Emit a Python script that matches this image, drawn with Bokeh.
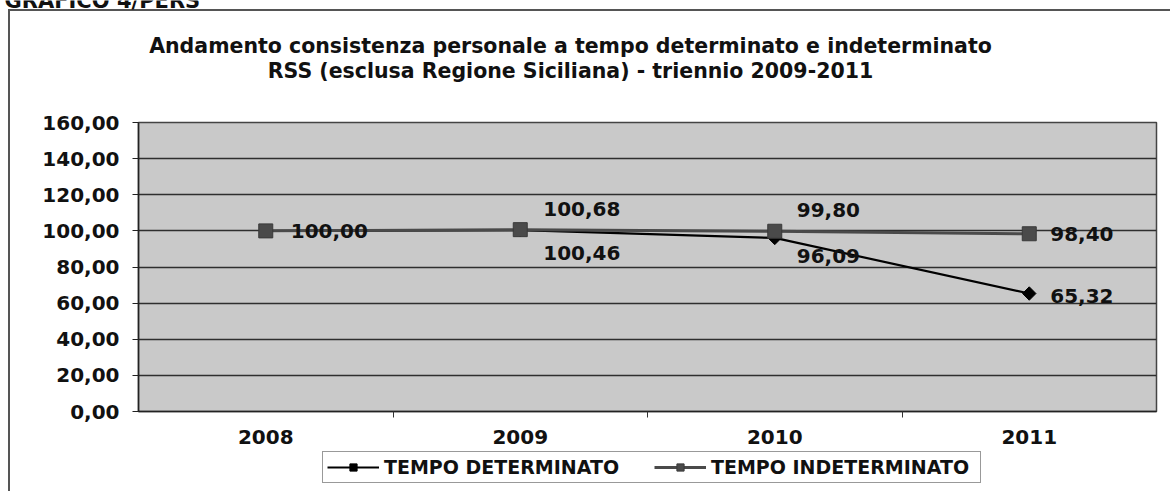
import math
from bokeh.plotting import figure
from bokeh.models import (ColumnDataSource, Range1d, FixedTicker, Legend, LegendItem)
from bokeh.core.properties import value
from bokeh.embed import file_html
from bokeh.resources import INLINE

# ---- data ----
years = ["2008", "2009", "2010", "2011"]
tempo_determinato = [100.00, 100.46, 96.09, 65.32]
tempo_indeterminato = [100.00, 100.68, 99.80, 98.40]
y_ticks = [0, 20, 40, 60, 80, 100, 120, 140, 160]
header_text = "GRAFICO 4/PERS"
title_lines = ["Andamento consistenza personale a tempo determinato e indeterminato",
               "RSS (esclusa Regione Siciliana) - triennio 2009-2011"]
series_names = ["TEMPO DETERMINATO", "TEMPO INDETERMINATO"]

FONT = "DejaVu Sans"
FS = "20px"
TXT = "#111111"

def fmt(v):
    return f"{v:.2f}".replace(".", ",")

W = 1170
TOP_H = 112
CH_H = 337
LG_H = 491 - TOP_H - CH_H

LEFT_LINE = {"background": "linear-gradient(#555555,#555555) 8px 0 / 2px 100% no-repeat"}

def bare(fig):
    fig.grid.visible = False
    fig.outline_line_color = None
    fig.background_fill_alpha = 0
    fig.border_fill_alpha = 0

# ---------- title block ----------
t = figure(width=W, height=TOP_H, output_backend="svg", toolbar_location=None,
           x_range=Range1d(0, W), y_range=Range1d(TOP_H, 0),
           x_axis_type=None, y_axis_type=None, min_border=0)
bare(t)
t.styles = {"background": ("linear-gradient(#555555,#555555) 8px 9px / 1162px 2px no-repeat, "
                           "linear-gradient(#555555,#555555) 8px 9px / 2px 103px no-repeat")}
t.text(x=[4], y=[0], text=[header_text], text_font=value(FONT),
       text_font_style="bold", text_font_size="21px", text_color=TXT,
       text_baseline="alphabetic", text_align="left")
t.text(x=[570, 570], y=[45, 70], text=title_lines, text_font=value(FONT),
       text_font_style="bold", text_font_size="20.5px", text_color=TXT,
       text_baseline="middle", text_align="center")

# ---------- chart ----------
xs = [i + 0.5 for i in range(len(years))]
p = figure(width=W, height=CH_H, output_backend="svg", toolbar_location=None,
           x_range=Range1d(0, len(years)), y_range=Range1d(0, 160),
           min_border_left=138, min_border_right=14, min_border_top=10,
           min_border_bottom=CH_H - 10 - 289)
p.styles = LEFT_LINE
p.background_fill_color = "#c9c9c9"
p.border_fill_alpha = 0
p.outline_line_color = "#444444"
p.outline_line_width = 1.5

p.xgrid.grid_line_color = None
p.ygrid.ticker = FixedTicker(ticks=y_ticks)
p.ygrid.grid_line_color = "#2e2e2e"
p.ygrid.grid_line_width = 1.5

yax = p.yaxis[0]
yax.ticker = FixedTicker(ticks=y_ticks)
yax.major_label_overrides = {v: fmt(v) for v in y_ticks}
yax.major_label_text_font = FONT
yax.major_label_text_font_style = "bold"
yax.major_label_text_font_size = FS
yax.major_label_text_color = TXT
yax.major_tick_out = 6
yax.major_tick_in = 0
yax.minor_tick_line_color = None
yax.axis_line_color = "#222222"
yax.axis_line_width = 1.5
yax.major_tick_line_color = "#222222"
yax.major_label_standoff = 13

xax = p.xaxis[0]
xax.ticker = FixedTicker(ticks=xs, minor_ticks=[1, 2, 3])
xax.major_label_overrides = {x: y for x, y in zip(xs, years)}
xax.major_label_text_font = FONT
xax.major_label_text_font_style = "bold"
xax.major_label_text_font_size = FS
xax.major_label_text_color = TXT
xax.major_tick_line_color = None
xax.major_tick_out = 0
xax.minor_tick_out = 6
xax.minor_tick_in = 0
xax.minor_tick_line_color = "#333333"
xax.axis_line_color = "#222222"
xax.axis_line_width = 1.5
xax.major_label_standoff = 12

IND_STYLE = dict(line_color="#4a4a4a", line_width=3)
IND_MARK = dict(marker="square", size=14, fill_color="#4a4a4a", line_color="#3a3a3a")
DET_STYLE = dict(line_color="#000000", line_width=2.2)
DET_MARK = dict(marker="square", angle=math.pi / 4, size=9.5,
                fill_color="#000000", line_color="#000000")

# determinato first so the squares sit on top, as in the source chart
p.line(xs, tempo_determinato, **DET_STYLE)
p.scatter(xs, tempo_determinato, **DET_MARK)
p.line(xs, tempo_indeterminato, **IND_STYLE)
p.scatter(xs, tempo_indeterminato, **IND_MARK)

# data labels (offsets in screen pixels)
ind_dx = [25, 23, 22, 21]
ind_dy = [0, -21, -21, 0]
det_dx = [25, 23, 22, 21]
det_dy = [0, 23, 18, 2]
lx, ly, lt, ldx, ldy = [], [], [], [], []
for i in range(len(years)):
    lx.append(xs[i]); ly.append(tempo_indeterminato[i]); lt.append(fmt(tempo_indeterminato[i]))
    ldx.append(ind_dx[i]); ldy.append(ind_dy[i])
    if i > 0:
        lx.append(xs[i]); ly.append(tempo_determinato[i]); lt.append(fmt(tempo_determinato[i]))
        ldx.append(det_dx[i]); ldy.append(det_dy[i])
src = ColumnDataSource(dict(x=lx, y=ly, t=lt, dx=ldx, dy=ldy))
p.text(x="x", y="y", text="t", x_offset="dx", y_offset="dy", source=src,
       text_font=value(FONT), text_font_style="bold", text_font_size=FS,
       text_color=TXT, text_baseline="middle", text_align="left")

# ---------- legend block ----------
# the series are re-plotted outside this strip's visible range, only to feed the legend
lg = figure(width=W, height=LG_H, output_backend="svg", toolbar_location=None,
            x_range=Range1d(0, 1), y_range=Range1d(0, 1),
            x_axis_type=None, y_axis_type=None, min_border=0)
bare(lg)
lg.styles = LEFT_LINE
r_det_l = lg.line(xs, tempo_determinato, **DET_STYLE)
r_det_m = lg.scatter(xs, tempo_determinato, **DET_MARK)
r_ind_l = lg.line(xs, tempo_indeterminato, **IND_STYLE)
r_ind_m = lg.scatter(xs, tempo_indeterminato, **IND_MARK)
legend = Legend(items=[LegendItem(label=series_names[0], renderers=[r_det_l, r_det_m]),
                       LegendItem(label=series_names[1], renderers=[r_ind_l, r_ind_m])],
                orientation="horizontal", location=(322, 8),
                label_text_font=FONT, label_text_font_style="bold",
                label_text_font_size="19px", label_text_color=TXT,
                border_line_color="#333333", border_line_width=1.5,
                background_fill_color="white", background_fill_alpha=1,
                glyph_width=52, glyph_height=18, spacing=5, padding=4, margin=0,
                label_standoff=5, label_height=18, label_width=265)
lg.add_layout(legend, "center")

open("out.html", "w").write(file_html([t, p, lg], INLINE))
